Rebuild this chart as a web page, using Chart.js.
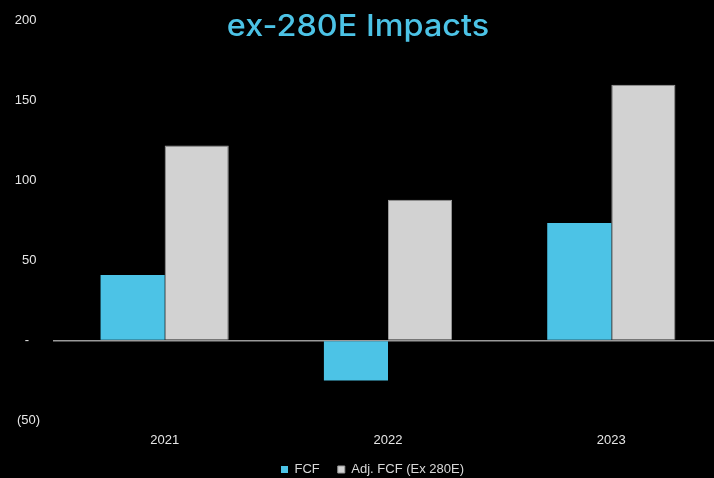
<!DOCTYPE html>
<html>
<head>
<meta charset="utf-8">
<script src="https://cdn.jsdelivr.net/npm/chart.js@4.4.1/dist/chart.umd.min.js"></script>
<style>
  html, body { margin: 0; padding: 0; background: #000; width: 714px; height: 478px; overflow: hidden; }
  #wrap { position: absolute; left: 0; top: 0; width: 730px; height: 478px; }
  #title {
    position: absolute; left: 0; top: 10px; width: 716px; text-align: center;
    color: #4cc3e6; font-family: Inter, "Noto Sans", sans-serif; font-size: 30px; font-weight: 500;
    line-height: 30px; transform: scaleX(1.08); transform-origin: 358px 0;
  }
</style>
</head>
<body>
<div id="wrap"><canvas id="fcfChart" width="730" height="478"></canvas></div>
<div id="title">ex-280E Impacts</div>
<script>
const years = ['2021', '2022', '2023'];
const fcf = [41, -25, 73.5];
const adjFcf = [122, 88, 160];
const yMin = -50;
const yMax = 200;
const yStep = 50;

// accounting style: 0 -> "-", negatives in brackets
function fmtTick(v) {
    if (v === 0) return '-   ';
    if (v < 0) return '(' + Math.abs(v) + ')';
    return v + ' ';
}

// pull the legend up a bit so it sits tight under the year labels
const legendNudge = {
    id: 'legendNudge',
    afterLayout(chart) {
        const lg = chart.legend;
        lg.top -= 15;
        lg.bottom -= 15;
        lg.left += 11;
        lg.right += 11;
    }
};

const ctx = document.getElementById('fcfChart').getContext('2d');
new Chart(ctx, {
    type: 'bar',
    data: {
        labels: years,
        datasets: [{
            label: 'FCF',
            data: fcf,
            backgroundColor: '#4cc3e6',
            borderColor: '#4cc3e6',
            borderWidth: 0
        }, {
            label: 'Adj. FCF (Ex 280E)',
            data: adjFcf,
            backgroundColor: '#d2d2d2',
            borderColor: '#9a9a9a',
            borderWidth: 1
        }]
    },
    plugins: [legendNudge],
    options: {
        responsive: false,
        animation: false,
        layout: { padding: { top: 13, right: 7, left: 0, bottom: -23 } },
        datasets: { bar: { categoryPercentage: 0.574, barPercentage: 1 } },
        plugins: {
            title: { display: false },
            tooltip: { enabled: false },
            legend: {
                position: 'bottom',
                labels: {
                    color: '#d8d8d8',
                    font: { family: 'Liberation Sans, Arial, sans-serif', size: 13 },
                    boxWidth: 7,
                    boxHeight: 7,
                    padding: 18
                }
            }
        },
        scales: {
            x: {
                grid: { display: false, drawTicks: false },
                border: { display: false },
                ticks: {
                    color: '#e6e6e6',
                    font: { family: 'Liberation Sans, Arial, sans-serif', size: 13 },
                    padding: 12
                }
            },
            y: {
                min: yMin,
                max: yMax,
                afterFit: function (scale) { scale.width = 53; },
                border: { display: false },
                grid: {
                    drawTicks: false,
                    lineWidth: 1.5,
                    color: c => (c.tick && c.tick.value === 0) ? '#9a9a9a' : 'transparent'
                },
                ticks: {
                    stepSize: yStep,
                    color: '#e6e6e6',
                    font: { family: 'Liberation Sans, Arial, sans-serif', size: 13 },
                    padding: 13,
                    callback: v => fmtTick(v)
                }
            }
        }
    }
});
</script>
</body>
</html>
